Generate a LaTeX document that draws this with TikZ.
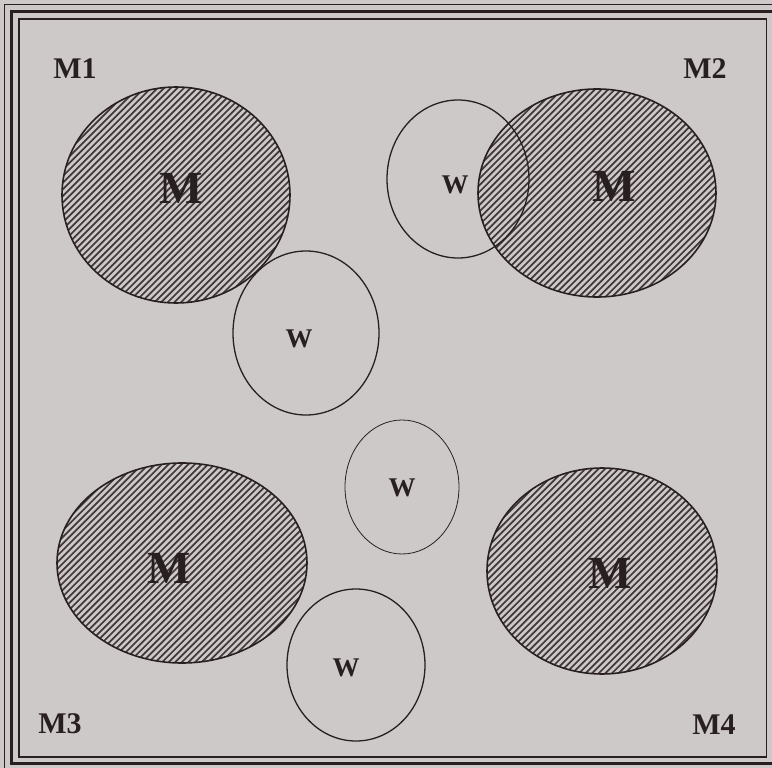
\documentclass[tikz,border=0pt]{standalone}
\usepackage{fontspec}
\setmainfont{Liberation Serif}
\usetikzlibrary{shapes.geometric}
\definecolor{paper}{RGB}{206,201,201}
\definecolor{ink}{RGB}{40,32,32}
\definecolor{hatchc}{RGB}{66,56,56}
\tikzset{
  bigm/.style={ellipse, draw=ink, line width=1.6pt, inner sep=0pt, outer sep=0pt,
    font=\fontsize{46}{46}\selectfont\bfseries, text=ink,
    path picture={
      \foreach \d in {-330,-323.4,...,330}
        \draw[hatchc, line width=1.7pt]
          ([xshift=\d pt]path picture bounding box.center) ++(-200pt,-200pt) -- ++(400pt,400pt);
    }},
  wcirc/.style={ellipse, draw=ink, line width=1.3pt, inner sep=0pt, outer sep=0pt,
    font=\fontsize{27}{27}\selectfont\bfseries, text=ink},
  corner/.style={font=\fontsize{30}{30}\selectfont\bfseries, text=ink, inner sep=0pt},
}
\begin{document}
\begin{tikzpicture}[x=1pt,y=-1pt]
\useasboundingbox (0,0) rectangle (772,768);
\fill[paper] (0,0) rectangle (772,768);
% frame
\draw[ink, line width=1pt] (4.5,4.5) rectangle (780,776);
\draw[ink, line width=3pt] (11.5,11.5) rectangle (773.5,763);
\draw[ink, line width=1.2pt] (19,19) rectangle (766.5,757);
% men
\node[bigm, minimum width=228pt, minimum height=216pt] (m1) at (176,195) {};
\node[bigm, minimum width=238pt, minimum height=208pt] (m2) at (597,193) {};
\node[bigm, minimum width=250pt, minimum height=200pt] (m3) at (182,563) {};
\node[bigm, minimum width=230pt, minimum height=206pt] (m4) at (602,571) {};
\node[font=\fontsize{46}{46}\selectfont\bfseries, text=ink] (lm1) at (181,188) {M};
\node[font=\fontsize{46}{46}\selectfont\bfseries, text=ink] (lm2) at (614,186) {M};
\node[font=\fontsize{46}{46}\selectfont\bfseries, text=ink] (lm3) at (169,568) {M};
\node[font=\fontsize{46}{46}\selectfont\bfseries, text=ink] (lm4) at (610,573) {M};
% women
\node[wcirc, minimum width=142pt, minimum height=158pt] (w1) at (458,179) {};
\node[wcirc, minimum width=146pt, minimum height=164pt] (w2) at (306,333) {};
\node[wcirc, line width=0.8pt, minimum width=114pt, minimum height=134pt] (w3) at (402,487) {};
\node[wcirc, minimum width=138pt, minimum height=152pt] (w4) at (356,665) {};
\node[font=\fontsize{27}{27}\selectfont\bfseries, text=ink] (lw1) at (455,185) {W};
\node[font=\fontsize{27}{27}\selectfont\bfseries, text=ink] (lw2) at (299,339) {W};
\node[font=\fontsize{27}{27}\selectfont\bfseries, text=ink] (lw3) at (402,488) {W};
\node[font=\fontsize{27}{27}\selectfont\bfseries, text=ink] (lw4) at (346,668) {W};
% corner labels
\node[corner] (c1) at (75,69) {M1};
\node[corner] (c2) at (705,69) {M2};
\node[corner] (c3) at (60,724) {M3};
\node[corner] (c4) at (714,725) {M4};
\end{tikzpicture}
\end{document}
